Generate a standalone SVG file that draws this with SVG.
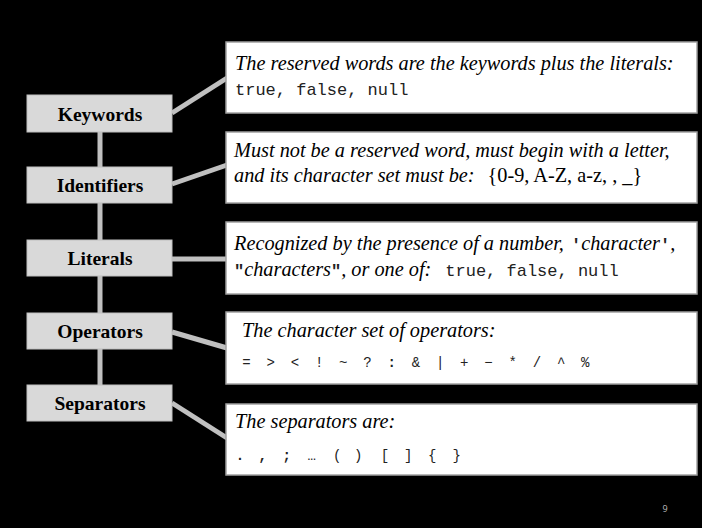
<svg xmlns="http://www.w3.org/2000/svg" width="702" height="528" viewBox="0 0 702 528">
<style>
.bg{fill:#000}
.lbox{fill:#d9d9d9;stroke:#bfbfbf;stroke-width:1}
.rbox{fill:#fff;stroke:#a0a0a0;stroke-width:1.5}
.lt{font-family:"Liberation Serif","Times New Roman",serif;font-weight:bold;font-size:19.5px;fill:#000;text-anchor:middle}
.it{font-family:"Liberation Serif","Times New Roman",serif;font-style:italic;font-size:20.3px;fill:#000}
.rm{font-family:"Liberation Serif","Times New Roman",serif;font-style:normal;font-size:20.3px;fill:#000}
.mono{font-family:"Liberation Mono","Courier New",monospace;font-style:normal;font-size:17px;fill:#222}
.q{font-family:"Liberation Mono","Courier New",monospace;font-style:normal;font-weight:bold;font-size:17px;fill:#222}
.sym{font-family:"Liberation Mono","Courier New",monospace;font-size:14px;fill:#222;text-anchor:middle}
.conn{stroke:#c0c0c0;stroke-width:5;fill:none}
.pg{font-family:"Open Sans","DejaVu Sans",sans-serif;font-size:9px;fill:#bbb}
</style>
<rect class="bg" x="0" y="0" width="702" height="528"/>
<g id="connectors">
<line class="conn" x1="100" y1="131" x2="100" y2="386"/>
<line class="conn" x1="172" y1="113" x2="227" y2="78"/>
<line class="conn" x1="172" y1="184" x2="227" y2="165"/>
<line class="conn" x1="172" y1="259" x2="227" y2="259"/>
<line class="conn" x1="172" y1="332" x2="227" y2="348"/>
<line class="conn" x1="172" y1="403" x2="227" y2="438"/>
</g>
<g id="keywords">
<rect class="lbox" x="27" y="95" width="145" height="37"/>
<text class="lt" x="100" y="121">Keywords</text>
</g>
<g id="identifiers">
<rect class="lbox" x="27" y="167" width="145" height="36"/>
<text class="lt" x="100" y="192">Identifiers</text>
</g>
<g id="literals">
<rect class="lbox" x="27" y="240" width="145" height="36"/>
<text class="lt" x="100" y="265">Literals</text>
</g>
<g id="operators">
<rect class="lbox" x="27" y="313" width="145" height="36"/>
<text class="lt" x="100" y="338">Operators</text>
</g>
<g id="separators">
<rect class="lbox" x="27" y="385" width="145" height="36"/>
<text class="lt" x="100" y="410">Separators</text>
</g>
<g id="note-keywords">
<rect class="rbox" x="226" y="42" width="471" height="71"/>
<text class="it" x="235" y="70">The reserved words are the keywords plus the literals:</text>
<text class="mono" x="235" y="95">true, false, null</text>
</g>
<g id="note-identifiers">
<rect class="rbox" x="226" y="132" width="471" height="71"/>
<text class="it" x="234" y="157">Must not be a reserved word, must begin with a letter,</text>
<text class="it" x="234" y="182">and its character set must be:<tspan class="rm" dx="13">{0-9, A-Z, a-z, , _}</tspan></text>
</g>
<g id="note-literals">
<rect class="rbox" x="226" y="222" width="471" height="72"/>
<text class="it" x="234" y="250">Recognized by the presence of a number, <tspan class="q" dx="2">'</tspan>character<tspan class="q">'</tspan>,</text>
<text class="it" x="234" y="276"><tspan class="q">"</tspan>characters<tspan class="q">"</tspan>, or one of:<tspan class="mono" dx="14">true, false, null</tspan></text>
</g>
<g id="note-operators">
<rect class="rbox" x="226" y="312" width="471" height="72"/>
<text class="it" x="242" y="337">The character set of operators:</text>
<text class="sym" y="367" x="246.5 270.7 294.9 319.1 343.3 367.5 391.7 415.9 440.1 464.3 488.5 512.7 536.9 561.1 585.3">=&gt;&lt;!~?<tspan font-weight="bold">:</tspan>&amp;|+−*/^%</text>
</g>
<g id="note-separators">
<rect class="rbox" x="226" y="404" width="471" height="71"/>
<text class="it" x="235" y="428">The separators are:</text>
<text class="sym" y="460" x="240 262.7 286.7 311.7 337.3 358.3 385 408.3 432.3 456.7"><tspan font-weight="bold">.,;</tspan>…()[]{}</text>
</g>
<text class="pg" x="665" y="512" text-anchor="middle">9</text>
</svg>
